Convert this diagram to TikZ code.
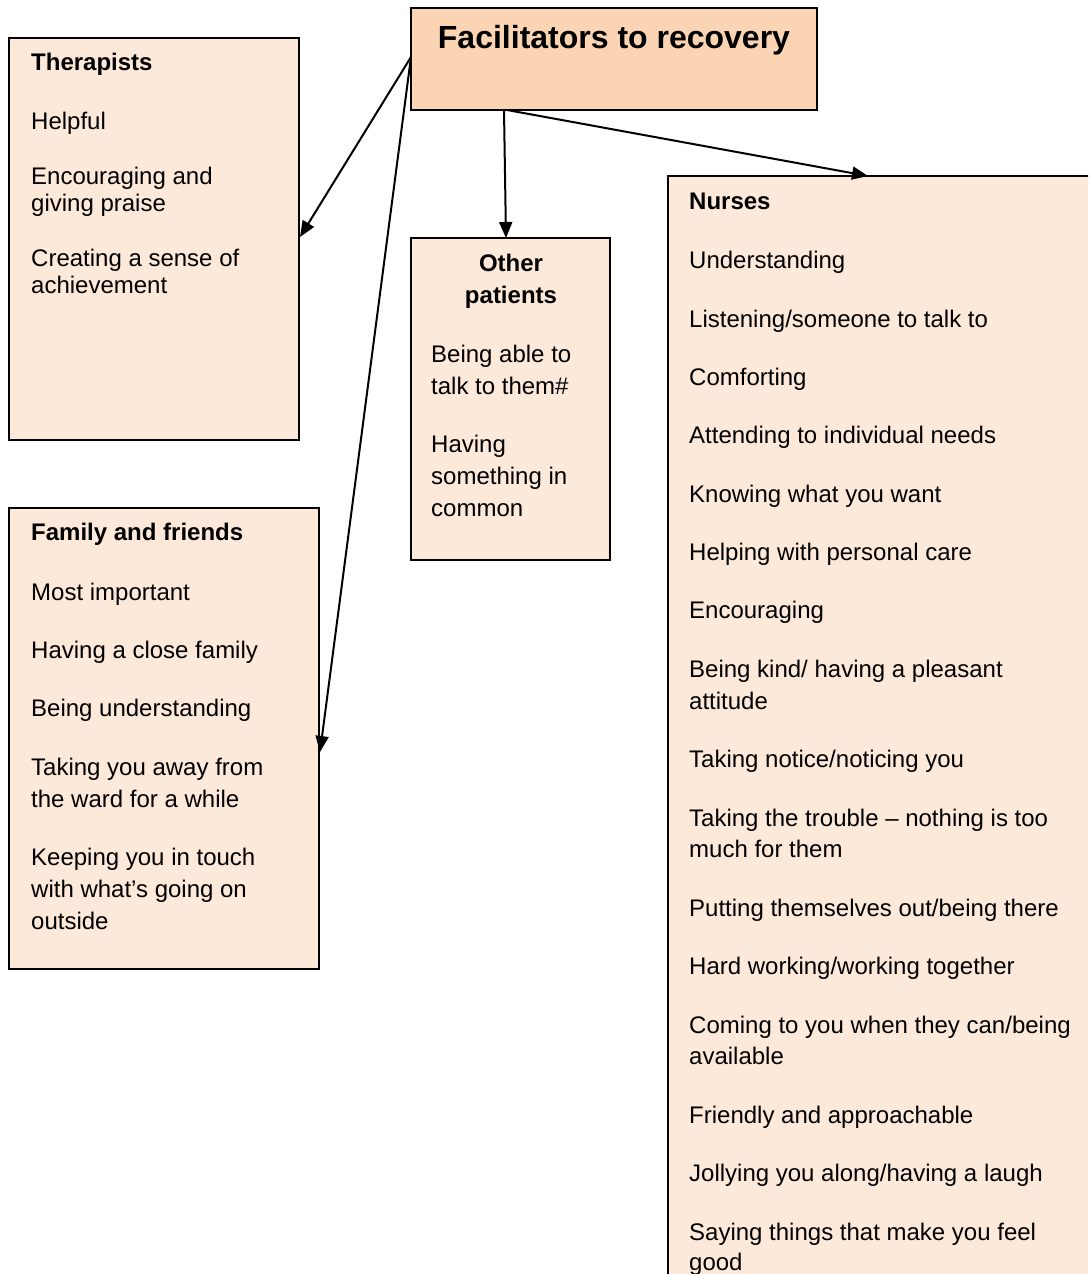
\documentclass[tikz,border=0pt]{standalone}
\usepackage{fontspec}
\setmainfont{Liberation Sans}
\usetikzlibrary{arrows.meta}
\definecolor{peach}{HTML}{FBD4B4}
\definecolor{lightpeach}{HTML}{FDE9D9}
\begin{document}
\begin{tikzpicture}[x=1pt,y=-1pt,
  box/.style={draw=black, line width=2pt, anchor=north west, inner sep=0pt, outer sep=0pt},
  catbox/.style={box, fill=lightpeach},
  item/.style={anchor=base west, inner sep=0pt, font=\fontsize{24}{28}\selectfont},
  head/.style={item, font=\fontsize{24}{28}\selectfont\bfseries},
  link/.style={line width=2pt, -{Triangle[length=16pt,width=13pt]}}]
\useasboundingbox (0,0) rectangle (1088,1274);
\clip (0,0) rectangle (1088,1274);

% boxes
\node (title) [box, fill=peach, minimum width=406pt, minimum height=102pt] at (411,8) {};
\node (ther)  [catbox, minimum width=290pt, minimum height=402pt] at (9,38) {};
\node (fam)   [catbox, minimum width=310pt, minimum height=461pt] at (9,508) {};
\node (oth)   [catbox, minimum width=199pt, minimum height=322pt] at (411,238) {};
\node (nur)   [catbox, minimum width=440pt, minimum height=1130pt] at (668,176) {};

% title text
\node (ttl) [anchor=base, inner sep=0pt, font=\fontsize{32}{36}\selectfont\bfseries] at (614,48) {Facilitators to recovery};

% therapists
\node (th0) [head] at (31,70)  {Therapists};
\node (th1) [item] at (31,129) {Helpful};
\node (th2) [item] at (31,184) {Encouraging and};
\node (th3) [item] at (31,211) {giving praise};
\node (th4) [item] at (31,266) {Creating a sense of};
\node (th5) [item] at (31,293) {achievement};

% family and friends
\node (fa0) [head] at (31,540) {Family and friends};
\node (fa1) [item] at (31,600) {Most important};
\node (fa2) [item] at (31,658) {Having a close family};
\node (fa3) [item] at (31,716) {Being understanding};
\node (fa4) [item] at (31,775) {Taking you away from};
\node (fa5) [item] at (31,807) {the ward for a while};
\node (fa6) [item] at (31,865) {Keeping you in touch};
\node (fa7) [item] at (31,897) {with what’s going on};
\node (fa8) [item] at (31,929) {outside};

% other patients
\node (ot0) [head, anchor=base] at (511,271) {Other};
\node (ot1) [head, anchor=base] at (511,303) {patients};
\node (ot2) [item] at (431,362) {Being able to};
\node (ot3) [item] at (431,394) {talk to them\#};
\node (ot4) [item] at (431,452) {Having};
\node (ot5) [item] at (431,484) {something in};
\node (ot6) [item] at (431,516) {common};

% nurses
\node (nu0)  [head] at (689,209)  {Nurses};
\node (nu1)  [item] at (689,268)  {Understanding};
\node (nu2)  [item] at (689,327)  {Listening/someone to talk to};
\node (nu3)  [item] at (689,385)  {Comforting};
\node (nu4)  [item] at (689,443)  {Attending to individual needs};
\node (nu5)  [item] at (689,502)  {Knowing what you want};
\node (nu6)  [item] at (689,560)  {Helping with personal care};
\node (nu7)  [item] at (689,618)  {Encouraging};
\node (nu8)  [item] at (689,677)  {Being kind/ having a pleasant};
\node (nu9)  [item] at (689,709)  {attitude};
\node (nu10) [item] at (689,767)  {Taking notice/noticing you};
\node (nu11) [item] at (689,826)  {Taking the trouble – nothing is too};
\node (nu12) [item] at (689,857)  {much for them};
\node (nu13) [item] at (689,916)  {Putting themselves out/being there};
\node (nu14) [item] at (689,974)  {Hard working/working together};
\node (nu15) [item] at (689,1033) {Coming to you when they can/being};
\node (nu16) [item] at (689,1064) {available};
\node (nu17) [item] at (689,1123) {Friendly and approachable};
\node (nu18) [item] at (689,1181) {Jollying you along/having a laugh};
\node (nu19) [item] at (689,1240) {Saying things that make you feel};
\node (nu20) [item] at (689,1270) {good};

% connector end points
\coordinate (srcL) at (411,57);
\coordinate (srcA) at (504,110);
\coordinate (srcB) at (507,110);
\coordinate (therIn) at (300,237);
\coordinate (famIn)  at (320,752);
\coordinate (othIn)  at (506,238);
\coordinate (nurIn)  at (868,176);

% connectors
\draw[link] (srcL) -- (therIn);
\draw[link] (srcL) -- (famIn);
\draw[link] (srcA) -- (othIn);
\draw[link] (srcB) -- (nurIn);
\end{tikzpicture}
\end{document}
